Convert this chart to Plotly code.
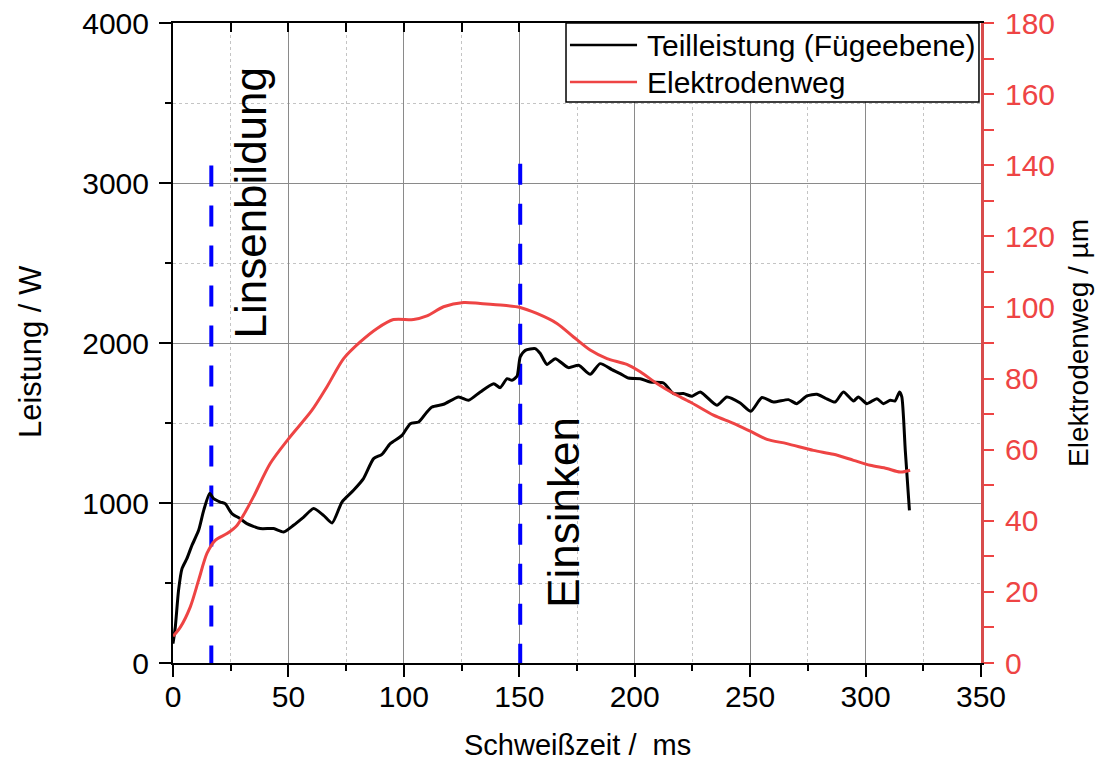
import plotly.graph_objects as go

# Teilleistung in der Fügeebene (W) über der Schweißzeit (ms)
time_power = [0, 1, 2.4, 3.9, 6, 8.2, 11.1, 13.3, 15.9, 17.6, 20.5, 22.6, 25.5, 29.1, 32,
              37.8, 43.6, 47.9, 52.2, 56.6, 60.9, 65.2, 68.9, 73.2, 78.2, 82.5, 86.9, 90.5,
              94.1, 99.2, 102.8, 106.4, 110, 112.2, 117.2, 123.7, 128, 133.1, 138.9, 141.7,
              144.7, 146.8, 149, 150.4, 152.6, 156.9, 159.1, 162, 165.6, 171.3, 175.7,
              180.7, 185, 190.1, 193.7, 197.3, 202.4, 206.7, 212.5, 216.8, 221.1, 224.8,
              228.4, 235.6, 239.9, 245.7, 250.3, 255.1, 260.1, 266.6, 270.2, 274.6, 278.9,
              282.5, 286.8, 290.4, 294.8, 296.9, 300.6, 304.9, 307.7, 310.7, 312.8, 314.7,
              315.7, 317.2, 319]
power = [121, 225, 454, 590, 652, 735, 829, 954, 1059, 1027, 1006, 996, 934, 902, 871,
         840, 840, 819, 861, 912, 965, 923, 875, 1006, 1079, 1152, 1277, 1304,
         1371, 1423, 1496, 1506, 1569, 1600, 1617, 1663, 1642, 1694, 1746, 1721,
         1777, 1767, 1792, 1913, 1954, 1965, 1934, 1866, 1902, 1846, 1861,
         1804, 1871, 1834, 1809, 1781, 1777, 1756, 1750, 1684, 1684, 1667,
         1694, 1611, 1663, 1625, 1573, 1659, 1631, 1646, 1621, 1669, 1679,
         1656, 1631, 1694, 1638, 1663, 1621, 1652, 1621, 1642, 1638, 1694,
         1663, 1329, 954]

# Elektrodenweg (µm) über der Schweißzeit (ms)
time_travel = [0, 3.2, 7.5, 11.1, 14.7, 18.3, 23.4, 27.7, 31.3, 34.9, 42.1, 50.1, 60.2,
               66.7, 73.9, 81.1, 88.4, 95.5, 104.2, 110, 117.2, 125.9, 133.1, 143.2,
               150.4, 157.6, 166.3, 173.5, 180.7, 188, 196.6, 202.4, 209.6, 216.8, 224,
               234.1, 242.8, 250, 257.3, 265.9, 277.4, 286.1, 294.8, 302, 309.2, 315,
               319.3]
travel = [7.5, 10.1, 15.8, 23.3, 30.8, 34.5, 36.4, 38.7, 42.5, 46.8, 56.1, 63.1, 71.1,
          77.7, 85.6, 90.3, 94.1, 96.6, 96.6, 97.6, 100.2, 101.4, 101.1, 100.6,
          100, 98.3, 95.5, 91.7, 88, 85.6, 84, 81.9, 78.6, 75.8, 73.4,
          69.7, 67.4, 65.2, 62.9, 61.7, 59.8, 58.7, 57, 55.6, 54.7, 53.7,
          54.2]

# Phasengrenzen (ms) und Höhe der Markierungslinien (W)
phase_times = [16.6, 150.4]
phase_top = [3110, 3120]
phase_labels = ["Linsenbildung", "Einsinken"]
phase_label_x = [33.5, 169]
phase_label_y = [2880, 940]

series_names = ["Teilleistung (Fügeebene)", "Elektrodenweg"]

FONT = "Liberation Sans, Arial, sans-serif"
RED = "#EE4444"
RED_AXIS = "#D84C4C"
COLORS = ["black", RED]

fig = go.Figure()

for t, top in zip(phase_times, phase_top):
    fig.add_trace(go.Scatter(
        x=[t, t], y=[top, 0], mode="lines",
        line=dict(color="#0000FF", width=4, dash="21px,19px"),
        showlegend=False, hoverinfo="skip"))

fig.add_trace(go.Scatter(
    x=time_power, y=power, mode="lines", name=series_names[0], showlegend=False,
    line=dict(color=COLORS[0], width=3, shape="spline", smoothing=0.6)))

fig.add_trace(go.Scatter(
    x=time_travel, y=travel, mode="lines", name=series_names[1], yaxis="y2",
    showlegend=False,
    line=dict(color=COLORS[1], width=3, shape="spline", smoothing=0.8)))

# invisible copy on the top axis so that its frame ticks are drawn
fig.add_trace(go.Scatter(
    x=time_power, y=power, xaxis="x2", mode="lines", opacity=0,
    line=dict(width=0), showlegend=False, hoverinfo="skip"))

for txt, lx, ly in zip(phase_labels, phase_label_x, phase_label_y):
    fig.add_annotation(x=lx, y=ly, xref="x", yref="y", text=txt, textangle=-90,
                       xanchor="center", yanchor="middle", showarrow=False,
                       font=dict(family=FONT, size=44, color="black"))

# legend box in the upper right corner of the plot area
fig.add_shape(type="rect", xref="paper", yref="paper", x0=0.4864, x1=0.9975,
              y0=0.8766, y1=1.0, line=dict(color="black", width=1.5),
              fillcolor="white", layer="above")
legend_rows = [0.9656, 0.9078]
for name, color, ry in zip(series_names, COLORS, legend_rows):
    fig.add_shape(type="line", xref="paper", yref="paper", x0=0.4913, x1=0.5743,
                  y0=ry, y1=ry, line=dict(color=color, width=2.5), layer="above")
    fig.add_annotation(x=0.5842, y=ry, xref="paper", yref="paper", text=name,
                       xanchor="left", yanchor="middle", showarrow=False,
                       font=dict(family=FONT, size=30, color="black"))

fig.add_annotation(x=-0.1757, y=0.486, xref="paper", yref="paper", text="Leistung / W",
                   textangle=-90, xanchor="center", yanchor="middle", showarrow=False,
                   font=dict(family=FONT, size=31, color="black"))
fig.add_annotation(x=0.5, y=-0.128, xref="paper", yref="paper",
                   text="Schweißzeit /\u00a0 ms", xanchor="center", yanchor="middle",
                   showarrow=False, font=dict(family=FONT, size=29, color="black"))
fig.add_annotation(x=1.12, y=0.5, xref="paper", yref="paper", text="Elektrodenweg / µm",
                   textangle=-90, xanchor="center", yanchor="middle", showarrow=False,
                   font=dict(family=FONT, size=28, color="black"))

fig.update_layout(
    width=1096, height=763,
    margin=dict(l=173, r=115, t=23, b=100, pad=0, autoexpand=False),
    paper_bgcolor="white", plot_bgcolor="white",
    font=dict(family=FONT, size=30, color="black"),
    showlegend=False,
    xaxis=dict(range=[0, 350], tick0=0, dtick=50, ticks="outside", ticklen=12,
               tickwidth=2, tickcolor="black", showline=True, linecolor="black",
               linewidth=2, showgrid=True, gridcolor="#8a8a8a", gridwidth=1,
               zeroline=False, tickfont=dict(family=FONT, size=30),
               ticklabelstandoff=-6, automargin=False,
               minor=dict(dtick=25, ticks="outside", ticklen=6, tickwidth=2,
                          tickcolor="black", showgrid=True, gridcolor="#c4c4c4",
                          griddash="dot", gridwidth=1)),
    xaxis2=dict(range=[0, 350], overlaying="x", side="top", tick0=0, dtick=25,
                ticks="inside", ticklen=9, tickwidth=2, tickcolor="black",
                showticklabels=False, showline=True, linecolor="black", linewidth=2,
                showgrid=False, zeroline=False, automargin=False),
    yaxis=dict(range=[0, 4000], tick0=0, dtick=1000, ticks="outside", ticklen=12,
               tickwidth=2, tickcolor="black", showline=True, linecolor="black",
               linewidth=2, showgrid=True, gridcolor="#8a8a8a", gridwidth=1,
               zeroline=False, tickfont=dict(family=FONT, size=30),
               ticklabelstandoff=4, automargin=False,
               minor=dict(dtick=500, ticks="outside", ticklen=6, tickwidth=2,
                          tickcolor="black", showgrid=True, gridcolor="#c4c4c4",
                          griddash="dot", gridwidth=1)),
    yaxis2=dict(range=[0, 180], overlaying="y", side="right", tick0=0, dtick=20,
                ticks="outside", ticklen=10, tickwidth=2, tickcolor=RED,
                showline=True, linecolor=RED_AXIS, linewidth=3, showgrid=False,
                zeroline=False, tickfont=dict(family=FONT, size=30, color=RED),
                ticklabelstandoff=5, automargin=False,
                minor=dict(dtick=10, ticks="outside", ticklen=10, tickwidth=2,
                           tickcolor=RED, showgrid=False)),
)

fig.write_html("out.html")
